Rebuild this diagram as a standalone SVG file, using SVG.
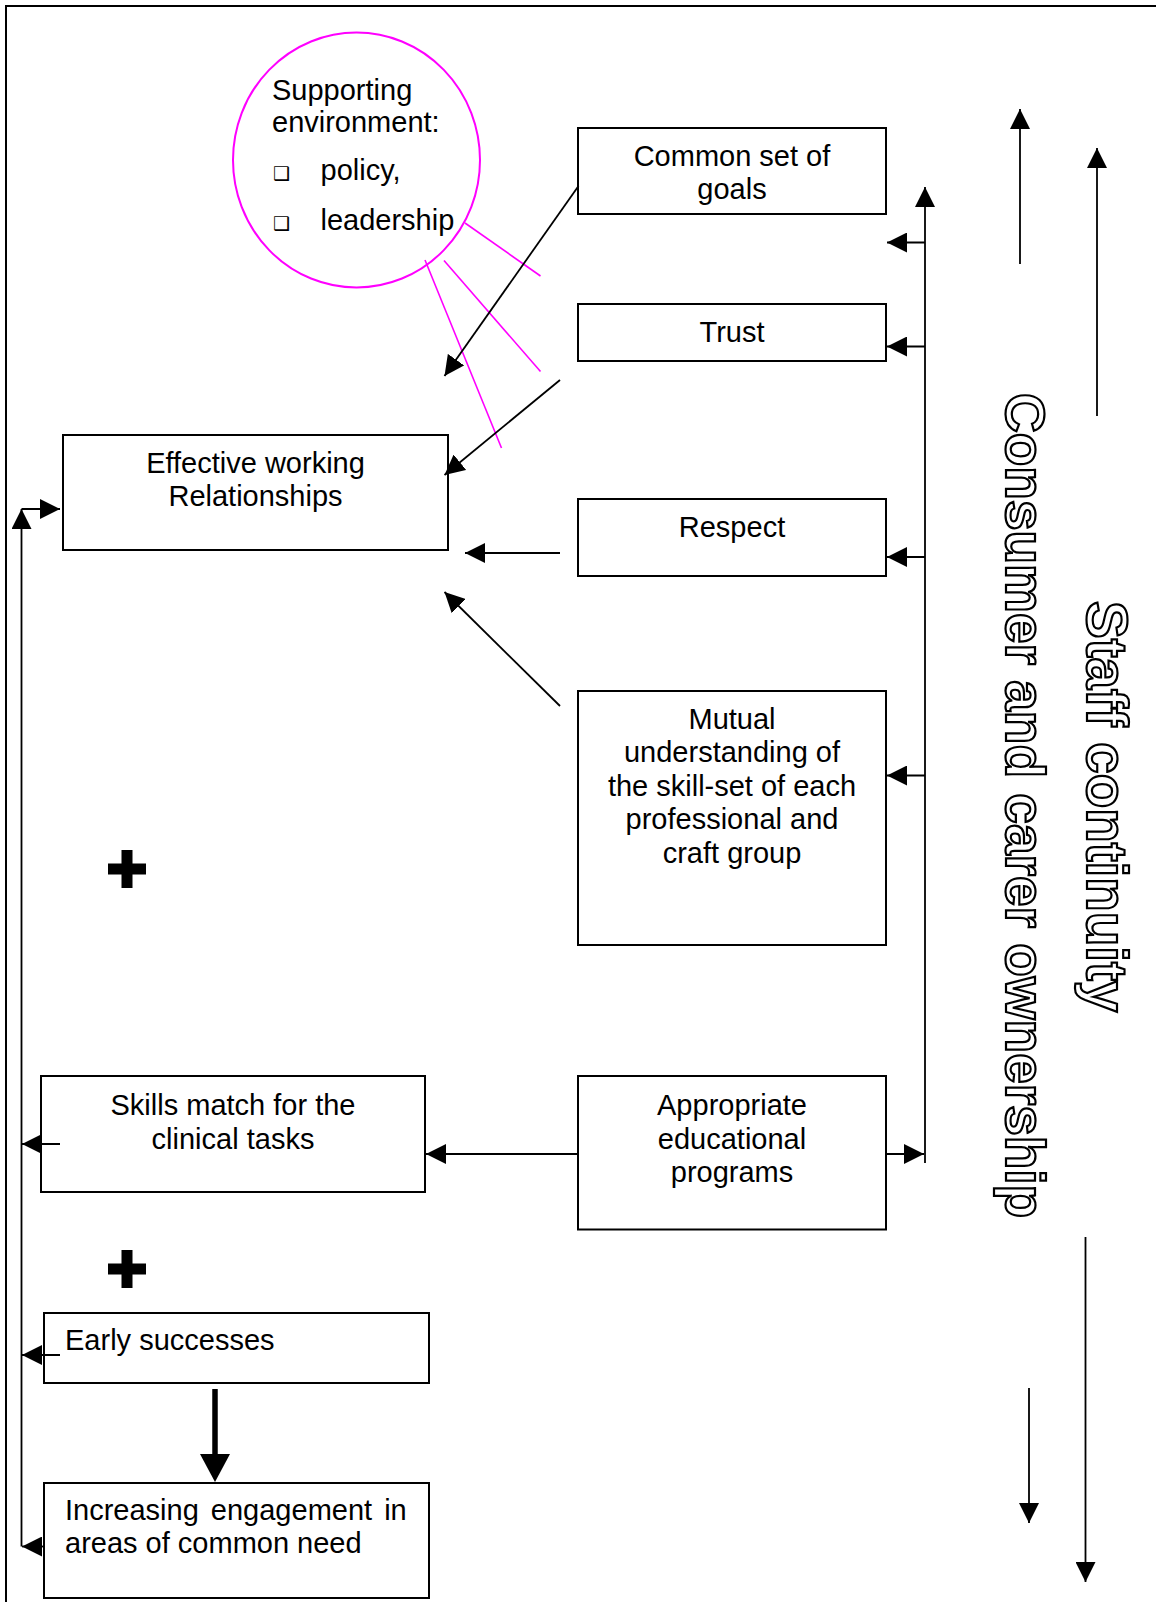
<svg xmlns="http://www.w3.org/2000/svg" width="1156" height="1602" viewBox="0 0 1156 1602">
<defs>
<style>
.box{fill:#fff;stroke:#000;stroke-width:2}
.t{font-family:"Liberation Sans",Arial,sans-serif;font-size:29px;fill:#000}
.c{text-anchor:middle}
.conn{stroke:#000;stroke-width:1.8;fill:none}
.mag{stroke:#FF00FF;stroke-width:1.6;fill:none}
.vt{font-family:"Liberation Sans",Arial,sans-serif;font-weight:bold;font-size:55px;fill:#fff;stroke:#000;stroke-width:2.2}
.bul{font-family:"DejaVu Sans",sans-serif;font-size:19px;fill:#000}
</style>
<marker id="ah" markerUnits="userSpaceOnUse" markerWidth="20" markerHeight="20" refX="20" refY="10" orient="auto"><path d="M0,0 L20,10 L0,20 z" fill="#000"/></marker>
<marker id="ahb" markerUnits="userSpaceOnUse" markerWidth="28" markerHeight="30" refX="6" refY="15" orient="auto"><path d="M0,0 L28,15 L0,30 z" fill="#000"/></marker>
</defs>
<rect x="6" y="6" width="1170" height="1620" fill="none" stroke="#000" stroke-width="2"/>

<g id="supporting-environment">
<ellipse cx="356.5" cy="160" rx="123.5" ry="127.5" fill="none" stroke="#FF00FF" stroke-width="2"/>
<text class="t" x="272" y="100">Supporting</text>
<text class="t" x="272" y="131.5">environment:</text>
<text class="bul" x="273" y="180">❑</text>
<text class="t" x="320.5" y="180">policy,</text>
<text class="bul" x="273" y="230">❑</text>
<text class="t" x="320.5" y="230">leadership</text>
</g>

<g id="common-goals">
<rect class="box" x="578" y="128" width="308" height="86"/>
<text class="t c" x="732" y="165.5">Common set of</text>
<text class="t c" x="732" y="199">goals</text>
</g>

<g id="trust">
<rect class="box" x="578" y="304" width="308" height="57"/>
<text class="t c" x="732" y="342">Trust</text>
</g>

<g id="respect">
<rect class="box" x="578" y="499" width="308" height="77"/>
<text class="t c" x="732" y="536.5">Respect</text>
</g>

<g id="mutual-understanding">
<rect class="box" x="578" y="691" width="308" height="254"/>
<text class="t c" x="732" y="728.5">Mutual</text>
<text class="t c" x="732" y="762">understanding of</text>
<text class="t c" x="732" y="795.5">the skill-set of each</text>
<text class="t c" x="732" y="829">professional and</text>
<text class="t c" x="732" y="862.5">craft group</text>
</g>

<g id="appropriate-programs">
<rect class="box" x="578" y="1076" width="308" height="153.5"/>
<text class="t c" x="732" y="1115">Appropriate</text>
<text class="t c" x="732" y="1148.5">educational</text>
<text class="t c" x="732" y="1182">programs</text>
</g>

<g id="effective-relationships">
<rect class="box" x="63" y="435" width="385" height="115"/>
<text class="t c" x="255.5" y="473">Effective working</text>
<text class="t c" x="255.5" y="506">Relationships</text>
</g>

<g id="skills-match">
<rect class="box" x="41" y="1076" width="384" height="116"/>
<text class="t c" x="233" y="1115">Skills match for the</text>
<text class="t c" x="233" y="1148.5">clinical tasks</text>
</g>

<g id="early-successes">
<rect class="box" x="44" y="1313" width="385" height="70"/>
<text class="t" x="65" y="1350">Early successes</text>
</g>

<g id="increasing-engagement">
<rect class="box" x="44" y="1483" width="385" height="115"/>
<text class="t" x="65" y="1520" word-spacing="4">Increasing engagement in</text>
<text class="t" x="65" y="1553">areas of common need</text>
</g>

<g id="plus-1"><path d="M121.5,850 h11 v13.5 h13.5 v11 h-13.5 v13.5 h-11 v-13.5 h-13.5 v-11 h13.5 z" fill="#000"/></g>
<g id="plus-2"><path d="M121.5,1250 h11 v13.5 h13.5 v11 h-13.5 v13.5 h-11 v-13.5 h-13.5 v-11 h13.5 z" fill="#000"/></g>

<g id="consumer-carer-ownership"><text class="vt" transform="translate(1006,393) rotate(90)">Consumer and carer ownership</text></g>
<g id="staff-continuity"><text class="vt" style="font-size:56.5px" transform="translate(1087,601) rotate(90)">Staff continuity</text></g>

<g id="connectors">
<line class="mag" x1="465" y1="223" x2="540.5" y2="276"/>
<line class="mag" x1="444" y1="260.5" x2="540.5" y2="371.5"/>
<line class="mag" x1="425" y1="260" x2="501.5" y2="448"/>

<line class="conn" x1="578.5" y1="186" x2="444.5" y2="376" marker-end="url(#ah)"/>
<line class="conn" x1="560" y1="380" x2="444.5" y2="475" marker-end="url(#ah)"/>
<line class="conn" x1="560" y1="553" x2="465" y2="553" marker-end="url(#ah)"/>
<line class="conn" x1="560" y1="706" x2="444.5" y2="592" marker-end="url(#ah)"/>

<line class="conn" x1="925" y1="1163" x2="925" y2="187" marker-end="url(#ah)"/>
<line class="conn" x1="925" y1="242.5" x2="887" y2="242.5" marker-end="url(#ah)"/>
<line class="conn" x1="925" y1="346.5" x2="887" y2="346.5" marker-end="url(#ah)"/>
<line class="conn" x1="925" y1="557" x2="887" y2="557" marker-end="url(#ah)"/>
<line class="conn" x1="925" y1="775.5" x2="887" y2="775.5" marker-end="url(#ah)"/>
<line class="conn" x1="886" y1="1154" x2="924" y2="1154" marker-end="url(#ah)"/>
<line class="conn" x1="578" y1="1154" x2="426" y2="1154" marker-end="url(#ah)"/>

<line class="conn" x1="21.5" y1="1546.5" x2="21.5" y2="509" marker-end="url(#ah)"/>
<line class="conn" x1="21.5" y1="509" x2="60" y2="509" marker-end="url(#ah)"/>
<line class="conn" x1="60" y1="1144" x2="22" y2="1144" marker-end="url(#ah)"/>
<line class="conn" x1="60" y1="1355" x2="22" y2="1355" marker-end="url(#ah)"/>
<line class="conn" x1="44" y1="1546.5" x2="22" y2="1546.5" marker-end="url(#ah)"/>

<line x1="215" y1="1389" x2="215" y2="1460" stroke="#000" stroke-width="5.5" marker-end="url(#ahb)"/>

<line class="conn" x1="1020" y1="264" x2="1020" y2="109" marker-end="url(#ah)"/>
<line class="conn" x1="1097" y1="416" x2="1097" y2="148" marker-end="url(#ah)"/>
<line class="conn" x1="1029" y1="1388" x2="1029" y2="1523" marker-end="url(#ah)"/>
<line class="conn" x1="1085.5" y1="1237" x2="1085.5" y2="1582" marker-end="url(#ah)"/>
</g>
</svg>
